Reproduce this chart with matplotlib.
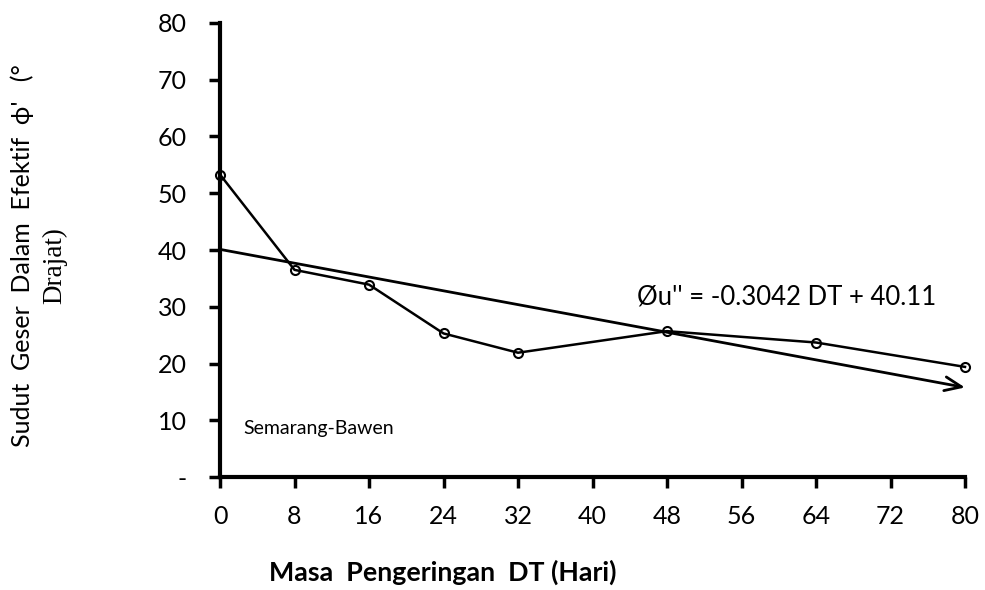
import matplotlib
matplotlib.use("Agg")
import matplotlib.pyplot as plt

# Drying period DT (days) and effective internal friction angle (degrees)
dt_days = [0, 8, 16, 24, 32, 48, 64, 80]
phi_deg = [53.3, 36.5, 33.9, 25.3, 21.9, 25.7, 23.7, 19.4]

# Linear trend
slope = -0.3042
intercept = 40.11
trend_x = [0, 80]

x_ticks = [0, 8, 16, 24, 32, 40, 48, 56, 64, 72, 80]
y_ticks = [0, 10, 20, 30, 40, 50, 60, 70, 80]
y_tick_labels = ["-", "10", "20", "30", "40", "50", "60", "70", "80"]

sans = ["Lato", "DejaVu Sans"]
serif = ["Liberation Serif", "DejaVu Serif"]

fig = plt.figure(figsize=(9.85, 5.9), dpi=100)
ax = fig.add_axes([220 / 985, 1 - 477 / 590, 745 / 985, 454 / 590])

ax.plot(dt_days, phi_deg, color="black", lw=1.8, marker="o", ms=6.5,
        mfc="none", mec="black", mew=1.5, clip_on=False, zorder=3)

trend_y = [intercept + slope * x for x in trend_x]
ax.annotate("", xy=(trend_x[1], trend_y[1]), xytext=(trend_x[0], trend_y[0]),
            arrowprops=dict(arrowstyle="->,head_length=1.2,head_width=0.5",
                            color="black", lw=2.0, shrinkA=0, shrinkB=0),
            annotation_clip=False)

ax.text(44.8, 31.7, "Øu'' = -0.3042 DT + 40.11", fontsize=18.5, family=sans,
        va="center", ha="left")
ax.text(2.5, 8.6, "Semarang-Bawen", fontsize=14, family=sans,
        va="center", ha="left")

ax.set_xlim(0, 80)
ax.set_ylim(0, 80)
ax.set_xticks(x_ticks)
ax.set_yticks(y_ticks)
ax.set_yticklabels(y_tick_labels)
for lab in ax.get_xticklabels() + ax.get_yticklabels():
    lab.set_family(sans)
    lab.set_fontsize(18)

ax.spines["top"].set_visible(False)
ax.spines["right"].set_visible(False)
ax.spines["left"].set_linewidth(3)
ax.spines["bottom"].set_linewidth(3)
ax.tick_params(axis="both", direction="out", length=8, width=2.5)
ax.tick_params(axis="x", pad=12)
ax.tick_params(axis="y", pad=16)

fig.text(443 / 985, 1 - 572 / 590, "Masa  Pengeringan  DT (Hari)",
         fontsize=19.3, fontweight="bold", family=sans, ha="center", va="center")
fig.text(22 / 985, 1 - 256 / 590, "Sudut  Geser  Dalam  Efektif  ϕ'   (°",
         fontsize=18, family=sans, rotation=90, ha="center", va="center")
fig.text(55 / 985, 1 - 266 / 590, "Drajat)", fontsize=19.5, family=serif,
         rotation=90, ha="center", va="center")

fig.savefig("out.png", dpi=100)
